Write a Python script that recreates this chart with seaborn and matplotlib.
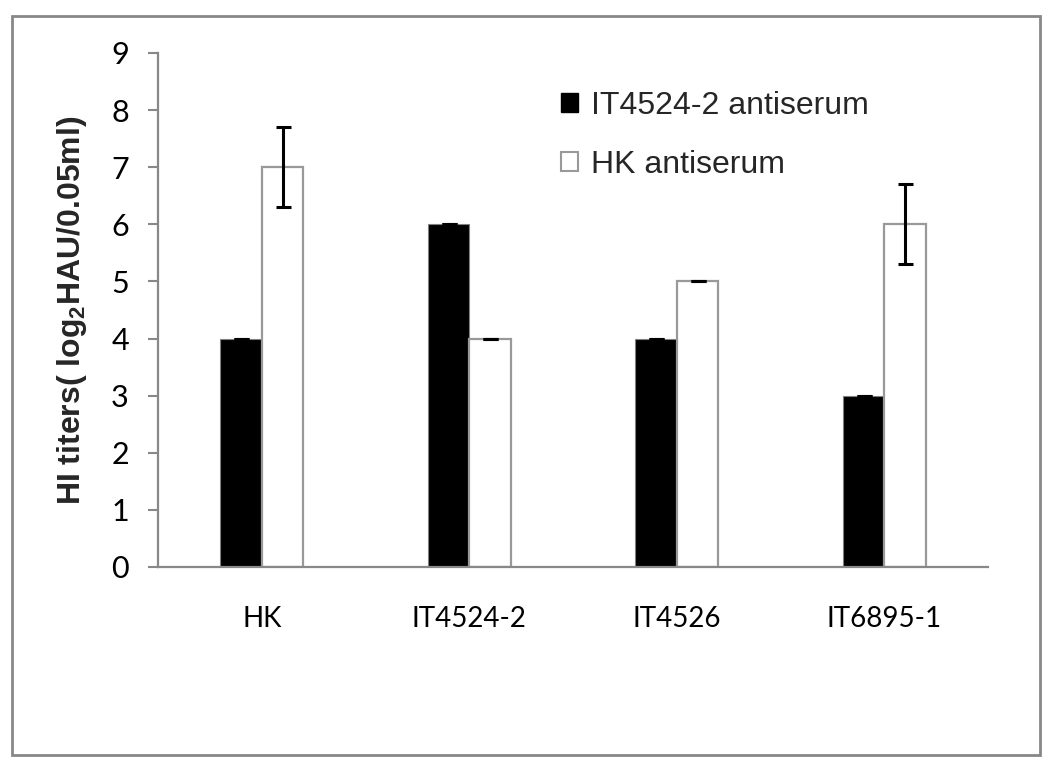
import matplotlib
matplotlib.use("Agg")
import matplotlib.pyplot as plt
import seaborn as sns
import pandas as pd
from matplotlib.patches import Rectangle

viruses = ["HK", "IT4524-2", "IT4526", "IT6895-1"]
series_names = ["IT4524-2 antiserum", "HK antiserum"]
it4524_vals = [4, 6, 4, 3]
hk_vals = [7, 4, 5, 6]
it4524_err = [0, 0, 0, 0]
hk_err = [0.7, 0, 0, 0.7]
y_ticks = list(range(0, 10))

rows = []
for v, a, b in zip(viruses, it4524_vals, hk_vals):
    rows.append({"virus": v, "serum": series_names[0], "titer": a})
    rows.append({"virus": v, "serum": series_names[1], "titer": b})
df = pd.DataFrame(rows)

sns.set_theme(style="white")
plt.rcParams["font.family"] = ["Liberation Sans", "DejaVu Sans"]

fig = plt.figure(figsize=(10.5, 7.67), dpi=100)
fig.patch.set_facecolor("white")
ax = fig.add_axes([158/1050, 1-567/767, (988-158)/1050, (567-53)/767])

sns.barplot(data=df, x="virus", y="titer", hue="serum", order=viruses,
            hue_order=series_names, palette=["black", "white"], width=0.4,
            errorbar=None, legend=False, ax=ax, saturation=1)

patches = list(ax.patches)
n = len(viruses)
for p in patches[:n]:
    p.set_edgecolor("#808080")
    p.set_linewidth(0.8)
for p in patches[n:2*n]:
    p.set_edgecolor("#999999")
    p.set_linewidth(1.6)

for group, vals, errs in [(patches[:n], it4524_vals, it4524_err),
                          (patches[n:2*n], hk_vals, hk_err)]:
    xs = [p.get_x() + p.get_width()/2 for p in group]
    ax.errorbar(xs, vals, yerr=errs, fmt="none", ecolor="black",
                elinewidth=2.2, capsize=5.4, capthick=2.2, zorder=5)

ax.set_xlim(-0.5, 3.5)
ax.set_ylim(0, 9)
ax.set_yticks(y_ticks)
ax.set_xlabel("")
ax.set_ylabel("HI titers( log$_\\mathregular{2}$HAU/0.05ml)", fontsize=23,
              fontweight="bold", labelpad=16)
for s in ["top", "right"]:
    ax.spines[s].set_visible(False)
for s in ["left", "bottom"]:
    ax.spines[s].set_color("#888888")
    ax.spines[s].set_linewidth(1.6)
ax.tick_params(axis="y", direction="out", length=7, width=1.5, color="#888888",
               left=True, pad=14, labelsize=22, labelfontfamily="Lato",
               labelcolor="black")
ax.tick_params(axis="x", length=0, pad=28, labelsize=20, labelfontfamily="Lato",
               labelcolor="black")

handles = [Rectangle((0, 0), 1, 1, facecolor="black", edgecolor="black"),
           Rectangle((0, 0), 1, 1, facecolor="white", edgecolor="#999999", linewidth=1.5)]
ax.legend(handles, series_names, loc="upper left",
          bbox_to_anchor=((548-158)/830, (53-78)/514 + 1), frameon=False,
          fontsize=23, handlelength=0.55, handleheight=0.55, handletextpad=0.4,
          labelspacing=0.9, borderaxespad=0)

fig.add_artist(Rectangle((12/1050, 1-755/767), (1040-12)/1050, (755-16)/767,
                         transform=fig.transFigure, fill=False,
                         edgecolor="#888888", linewidth=2))

fig.savefig("out.png", dpi=100)
